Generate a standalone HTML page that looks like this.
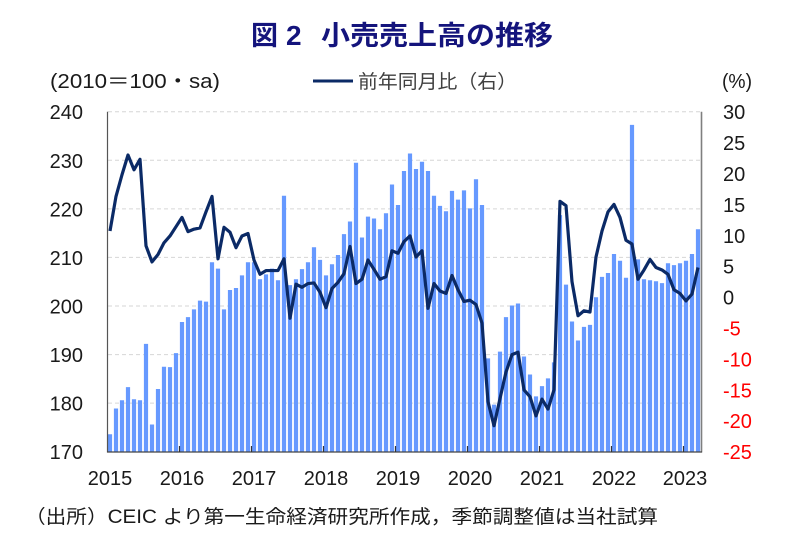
<!DOCTYPE html>
<html>
<head>
<meta charset="utf-8">
<style>
html,body{margin:0;padding:0;background:#fff;}
svg{display:block;}
text{font-family:"Liberation Sans","Noto Sans CJK JP",sans-serif;}
</style>
</head>
<body>
<svg width="788" height="540" viewBox="0 0 788 540" xmlns="http://www.w3.org/2000/svg">
<rect width="788" height="540" fill="#fff"/>
<g fill="#14147c" font-weight="bold" font-size="27">
<text x="251" y="45" style="font-family:'Noto Sans CJK JP',sans-serif">図</text>
<text x="286" y="45" font-size="28">2</text>
<text x="321" y="45" textLength="232" lengthAdjust="spacingAndGlyphs" style="font-family:'Noto Sans CJK JP',sans-serif">小売売上高の推移</text>
</g>
<text x="50" y="88" font-size="20" fill="#1a1a1a" textLength="170" lengthAdjust="spacingAndGlyphs">(2010＝100・sa)</text>
<line x1="313" y1="81" x2="353" y2="81" stroke="#0b2a66" stroke-width="3"/>
<text x="358" y="88" font-size="19" fill="#404040" textLength="159" lengthAdjust="spacingAndGlyphs">前年同月比（右）</text>
<text x="722" y="88" font-size="20" fill="#1a1a1a" textLength="30" lengthAdjust="spacingAndGlyphs">(%)</text>
<g stroke="#d6d6d6" stroke-width="1" stroke-dasharray="4 3">
<line x1="108" y1="111.7" x2="701" y2="111.7"/>
<line x1="108" y1="160.3" x2="701" y2="160.3"/>
<line x1="108" y1="208.9" x2="701" y2="208.9"/>
<line x1="108" y1="257.4" x2="701" y2="257.4"/>
<line x1="108" y1="306.0" x2="701" y2="306.0"/>
<line x1="108" y1="354.6" x2="701" y2="354.6"/>
<line x1="108" y1="403.1" x2="701" y2="403.1"/>
</g>
<g transform="matrix(6 0 0 -4.857 110 1277.38)">
<path fill="#6699ff" d="M-.35 170h.7V173.6h-.7zM.65 170h.7V178.9h-.7zM1.65 170h.7V180.6h-.7zM2.65 170h.7V183.3h-.7zM3.65 170h.7V180.8h-.7zM4.65 170h.7V180.6h-.7zM5.65 170h.7V192.2h-.7zM6.65 170h.7V175.6h-.7zM7.65 170h.7V182.9h-.7zM8.65 170h.7V187.5h-.7zM9.65 170h.7V187.4h-.7zM10.65 170h.7V190.3h-.7zM11.65 170h.7V196.7h-.7zM12.65 170h.7V197.7h-.7zM13.65 170h.7V199.3h-.7zM14.65 170h.7V201.1h-.7zM15.65 170h.7V200.9h-.7zM16.65 170h.7V209.0h-.7zM17.65 170h.7V207.7h-.7zM18.65 170h.7V199.3h-.7zM19.65 170h.7V203.3h-.7zM20.65 170h.7V203.7h-.7zM21.65 170h.7V206.3h-.7zM22.65 170h.7V209.0h-.7zM23.65 170h.7V209.0h-.7zM24.65 170h.7V205.5h-.7zM25.65 170h.7V206.5h-.7zM26.65 170h.7V207.7h-.7zM27.65 170h.7V205.3h-.7zM28.65 170h.7V222.7h-.7zM29.65 170h.7V204.3h-.7zM30.65 170h.7V205.5h-.7zM31.65 170h.7V207.6h-.7zM32.65 170h.7V209.0h-.7zM33.65 170h.7V212.1h-.7zM34.65 170h.7V209.5h-.7zM35.65 170h.7V206.3h-.7zM36.65 170h.7V208.6h-.7zM37.65 170h.7V210.5h-.7zM38.65 170h.7V214.8h-.7zM39.65 170h.7V217.4h-.7zM40.65 170h.7V229.5h-.7zM41.65 170h.7V214.1h-.7zM42.65 170h.7V218.4h-.7zM43.65 170h.7V218.0h-.7zM44.65 170h.7V215.8h-.7zM45.65 170h.7V219.1h-.7zM46.65 170h.7V225.0h-.7zM47.65 170h.7V220.8h-.7zM48.65 170h.7V227.8h-.7zM49.65 170h.7V231.4h-.7zM50.65 170h.7V228.2h-.7zM51.65 170h.7V229.7h-.7zM52.65 170h.7V227.8h-.7zM53.65 170h.7V222.7h-.7zM54.65 170h.7V220.6h-.7zM55.65 170h.7V219.5h-.7zM56.65 170h.7V223.7h-.7zM57.65 170h.7V221.9h-.7zM58.65 170h.7V223.8h-.7zM59.65 170h.7V220.1h-.7zM60.65 170h.7V226.1h-.7zM61.65 170h.7V220.8h-.7zM62.65 170h.7V189.2h-.7zM63.65 170h.7V179.7h-.7zM64.65 170h.7V190.6h-.7zM65.65 170h.7V197.7h-.7zM66.65 170h.7V200.1h-.7zM67.65 170h.7V200.5h-.7zM68.65 170h.7V189.6h-.7zM69.65 170h.7V185.9h-.7zM70.65 170h.7V181.4h-.7zM71.65 170h.7V183.5h-.7zM72.65 170h.7V185.1h-.7zM73.65 170h.7V188.4h-.7zM74.65 170h.7V218.7h-.7zM75.65 170h.7V204.4h-.7zM76.65 170h.7V196.8h-.7zM77.65 170h.7V192.9h-.7zM78.65 170h.7V195.7h-.7zM79.65 170h.7V196.1h-.7zM80.65 170h.7V201.8h-.7zM81.65 170h.7V206.0h-.7zM82.65 170h.7V206.8h-.7zM83.65 170h.7V210.7h-.7zM84.65 170h.7V209.3h-.7zM85.65 170h.7V205.8h-.7zM86.65 170h.7V237.3h-.7zM87.65 170h.7V209.6h-.7zM88.65 170h.7V205.5h-.7zM89.65 170h.7V205.3h-.7zM90.65 170h.7V205.1h-.7zM91.65 170h.7V204.7h-.7zM92.65 170h.7V208.8h-.7zM93.65 170h.7V208.4h-.7zM94.65 170h.7V208.8h-.7zM95.65 170h.7V209.3h-.7zM96.65 170h.7V210.7h-.7zM97.65 170h.7V215.8h-.7z"/>
</g>
<g transform="matrix(6 0 0 -6.182 110 297.16)">
<polyline fill="none" stroke="#0b2a66" stroke-width="3.2" stroke-linejoin="round" vector-effect="non-scaling-stroke" points="0,10.7 1,16.3 2,19.8 3,23.0 4,20.6 5,22.3 6,8.3 7,5.7 8,6.9 9,8.8 10,9.9 11,11.4 12,12.9 13,10.6 14,11.0 15,11.2 16,13.8 17,16.3 18,6.2 19,11.3 20,10.5 21,8.0 22,9.9 23,10.3 24,6.0 25,3.7 26,4.3 27,4.3 28,4.3 29,6.2 30,-3.4 31,2.1 32,1.6 33,2.2 34,2.3 35,0.8 36,-1.7 37,1.4 38,2.4 39,3.8 40,8.2 41,2.2 42,2.9 43,6.0 44,4.5 45,2.9 46,3.3 47,7.5 48,7.1 49,9.0 50,9.9 51,6.5 52,7.5 53,-1.8 54,2.2 55,1.0 56,0.6 57,3.5 58,1.2 59,-0.7 60,-0.5 61,-1.2 62,-4.2 63,-16.9 64,-20.8 65,-16.4 66,-12.1 67,-9.3 68,-8.9 69,-15.0 70,-16.1 71,-19.2 72,-16.5 73,-18.1 74,-15.0 75,15.5 76,14.8 77,2.5 78,-3.0 79,-2.2 80,-2.4 81,6.5 82,10.7 83,13.8 84,15.0 85,12.9 86,9.2 87,8.6 88,2.9 89,4.4 90,6.1 91,4.8 92,4.4 93,3.7 94,1.2 95,0.6 96,-0.6 97,0.5 98,4.8"/>
</g>
<line x1="107.5" y1="111.7" x2="107.5" y2="452.5" stroke="#555" stroke-width="1.2"/>
<line x1="701.5" y1="111.7" x2="701.5" y2="452.5" stroke="#7f7f7f" stroke-width="1.6"/>
<line x1="107" y1="452" x2="702" y2="452" stroke="#444" stroke-width="1.2"/>
<g stroke="#333" stroke-width="1.2">
<line x1="179.5" y1="446" x2="179.5" y2="452"/>
<line x1="251.5" y1="446" x2="251.5" y2="452"/>
<line x1="323.5" y1="446" x2="323.5" y2="452"/>
<line x1="395.5" y1="446" x2="395.5" y2="452"/>
<line x1="467.5" y1="446" x2="467.5" y2="452"/>
<line x1="539.5" y1="446" x2="539.5" y2="452"/>
<line x1="611.5" y1="446" x2="611.5" y2="452"/>
<line x1="683.5" y1="446" x2="683.5" y2="452"/>
</g>
<g font-size="20" fill="#1a1a1a" text-anchor="end">
<text x="83" y="119.2">240</text>
<text x="83" y="167.8">230</text>
<text x="83" y="216.4">220</text>
<text x="83" y="264.9">210</text>
<text x="83" y="313.5">200</text>
<text x="83" y="362.1">190</text>
<text x="83" y="410.6">180</text>
<text x="83" y="459.2">170</text>
</g>
<g font-size="20" fill="#1a1a1a">
<text x="723" y="119.2">30</text>
<text x="723" y="150.1">25</text>
<text x="723" y="181.0">20</text>
<text x="723" y="211.9">15</text>
<text x="723" y="242.8">10</text>
<text x="723" y="273.7">5</text>
<text x="723" y="304.6">0</text>
</g>
<g font-size="20" fill="#ff0000">
<text x="723" y="335.5">-5</text>
<text x="723" y="366.4">-10</text>
<text x="723" y="397.3">-15</text>
<text x="723" y="428.2">-20</text>
<text x="723" y="459.2">-25</text>
</g>
<g font-size="20" fill="#1a1a1a" text-anchor="middle">
<text x="110" y="485">2015</text>
<text x="182" y="485">2016</text>
<text x="254" y="485">2017</text>
<text x="326" y="485">2018</text>
<text x="398" y="485">2019</text>
<text x="470" y="485">2020</text>
<text x="542" y="485">2021</text>
<text x="614" y="485">2022</text>
<text x="685" y="485">2023</text>
</g>
<text x="25" y="523" font-size="19" fill="#1a1a1a" textLength="633" lengthAdjust="spacingAndGlyphs">（出所）CEIC より第一生命経済研究所作成，季節調整値は当社試算</text>
</svg>
</body>
</html>
